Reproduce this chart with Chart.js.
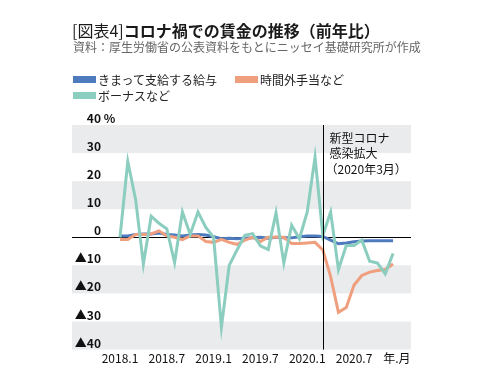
<!DOCTYPE html>
<html lang="ja">
<head>
<meta charset="utf-8">
<title>コロナ禍での賃金の推移（前年比）</title>
<script src="https://cdn.jsdelivr.net/npm/chart.js@4.4.0/dist/chart.umd.min.js"></script>
<style>
  body { margin: 0; background: #fff; font-family: "Noto Sans CJK JP", "Noto Sans", sans-serif; }
  #wrap { position: relative; width: 479px; height: 383px; overflow: hidden; }
  canvas { position: absolute; left: 0; top: 0; }
  .title { position: absolute; left: 72px; top: 18px; font-size: 16px; font-weight: bold; color: #1a1a1a; white-space: nowrap; }
  .title span { font-weight: normal; }
  .source { position: absolute; left: 73px; top: 38px; font-size: 12px; color: #666; white-space: nowrap; }
  .item { position: absolute; display: flex; align-items: center; font-size: 12px; color: #222; white-space: nowrap; }
  .sw { width: 23px; height: 7px; margin-right: 2px; }
</style>
</head>
<body>
<div id="wrap">
  <canvas id="wageChart" width="479" height="383"></canvas>
  <div class="title"><span>[図表4]</span>コロナ禍での賃金の推移（前年比）</div>
  <div class="source">資料：厚生労働省の公表資料をもとにニッセイ基礎研究所が作成</div>
  <div id="legend"></div>
</div>
<script>
// 2018.1 〜 2020.12 の月次、前年比（%）
const regularPay = [0.5, 0.5, 1.0, 1.2, 1.2, 1.5, 1.0, 0.8, 0.5, 0.8, 1.0, 0.8,
                    0.2, -0.5, -0.3, -0.5, -0.3, -0.2, 0.0, -0.3, 0.0, -0.2, -0.2, 0.2,
                    0.5, 0.5, 0.3, -1.0, -2.3, -2.0, -1.6, -1.3, -1.2, -1.2, -1.2, -1.2];
const overtimePay = [-0.8, -0.8, 1.0, 1.0, 1.2, 2.3, 0.5, 0.0, -0.8, 0.5, 0.5, -1.5,
                     -1.8, -0.7, -1.8, -2.5, -1.0, 0.0, -1.5, 0.0, 0.0, 0.0, -2.2, -2.2,
                     -2.0, -1.8, -4.5, -14.0, -26.7, -25.0, -17.0, -13.6, -12.4, -11.8, -11.5, -9.5];
const bonusPay = [0.0, 27.0, 13.5, -9.5, 7.5, 5.0, 3.0, -9.0, 9.0, 1.0, 9.0, 3.5,
                  0.0, -32.0, -10.0, -4.5, 0.7, 1.3, -3.0, -4.4, 8.7, -9.2, 4.3, -0.5,
                  9.0, 28.5, 0.7, 9.0, -11.5, -2.9, -2.9, -1.0, -8.5, -9.2, -13.0, -5.8];

const seriesNames = ['きまって支給する給与', '時間外手当など', 'ボーナスなど'];
const seriesColors = ['#4d7bbd', '#ef9e7e', '#8bcdbf'];

const xTickPos = [0, 6, 12, 18, 24, 30, 35.5];
const xTickLabels = ['2018.1', '2018.7', '2019.1', '2019.7', '2020.1', '2020.7', '年.月'];
const yTicks = [40, 30, 20, 10, 0, -10, -20, -30, -40];
const covidStart = 26; // 2020.3
const noteLines = ['新型コロナ', '感染拡大', '（2020年3月）'];

// legend
const legendBox = document.getElementById('legend');
const legendPos = [[73, 71], [235, 71], [73, 87]];
seriesNames.forEach((name, i) => {
    const item = document.createElement('div');
    item.className = 'item';
    item.style.left = legendPos[i][0] + 'px';
    item.style.top = legendPos[i][1] + 'px';
    item.innerHTML = `<div class="sw" style="background:${seriesColors[i]}"></div>${name}`;
    legendBox.appendChild(item);
});

const yLabel = v => v < 0 ? '▲' + (-v) : String(v);

const framePlugin = {
    id: 'frame',
    beforeDatasetsDraw(chart) {
        const { ctx, chartArea: a, scales: { y } } = chart;
        ctx.save();
        ctx.fillStyle = '#e9ebed';
        [[30, 40], [10, 20], [-20, -10], [-40, -30]].forEach(([lo, hi]) => {
            const top = y.getPixelForValue(hi), bot = y.getPixelForValue(lo);
            ctx.fillRect(a.left, top, a.right - a.left, bot - top);
        });
        ctx.strokeStyle = '#000';
        ctx.lineWidth = 1;
        const y0 = Math.round(y.getPixelForValue(0)) + 0.5;
        ctx.beginPath();
        ctx.moveTo(a.left, y0);
        ctx.lineTo(a.right, y0);
        ctx.stroke();

        // y labels
        ctx.fillStyle = '#111';
        ctx.font = 'bold 12px "Noto Sans CJK JP"';
        ctx.textAlign = 'right';
        ctx.textBaseline = 'alphabetic';
        const lx = a.left + 29;
        yTicks.forEach(v => {
            const py = y.getPixelForValue(v) - 2;
            ctx.fillText(yLabel(v), lx, py);
            if (v === 40) {
                ctx.textAlign = 'left';
                ctx.fillText(' %', lx, py);
                ctx.textAlign = 'right';
            }
        });
        ctx.restore();
    },
    afterDatasetsDraw(chart) {
        const { ctx, chartArea: a, scales: { x } } = chart;
        ctx.save();
        const vx = Math.round(x.getPixelForValue(covidStart)) + 0.5;
        ctx.strokeStyle = '#000';
        ctx.lineWidth = 1;
        ctx.beginPath();
        ctx.moveTo(vx, a.top);
        ctx.lineTo(vx, a.bottom);
        ctx.stroke();
        ctx.fillStyle = '#111';
        ctx.font = '12px "Noto Sans CJK JP"';
        ctx.textAlign = 'left';
        ctx.textBaseline = 'middle';
        noteLines.forEach((t, i) => {
            ctx.fillText(t, vx + (i === 2 ? 2 : 6), a.top + 13 + i * 15.5);
        });
        ctx.restore();
    }
};

const toPoints = arr => arr.map((v, i) => ({ x: i, y: v }));

new Chart(document.getElementById('wageChart'), {
    type: 'line',
    data: {
        datasets: [
            { label: seriesNames[2], data: toPoints(bonusPay), borderColor: seriesColors[2], order: 0 },
            { label: seriesNames[1], data: toPoints(overtimePay), borderColor: seriesColors[1], order: 1 },
            { label: seriesNames[0], data: toPoints(regularPay), borderColor: seriesColors[0], order: 2 }
        ]
    },
    options: {
        responsive: false,
        devicePixelRatio: 1,
        animation: false,
        layout: { padding: { left: 72, right: 68, top: 125, bottom: 15 } },
        elements: {
            line: { borderWidth: 3, tension: 0, borderJoinStyle: 'miter' },
            point: { radius: 0 }
        },
        plugins: { legend: { display: false }, tooltip: { enabled: false } },
        scales: {
            x: {
                type: 'linear',
                min: -6.15,
                max: 37.3,
                grid: { display: false, drawTicks: false },
                border: { display: false },
                afterBuildTicks: scale => { scale.ticks = xTickPos.map(v => ({ value: v })); },
                ticks: {
                    autoSkip: false,
                    maxRotation: 0,
                    padding: 2,
                    color: '#111',
                    font: { family: '"Noto Sans CJK JP"', size: 12 },
                    callback: (val, idx) => xTickLabels[idx]
                }
            },
            y: {
                display: false,
                min: -40,
                max: 40
            }
        }
    },
    plugins: [framePlugin]
});
</script>
</body>
</html>
